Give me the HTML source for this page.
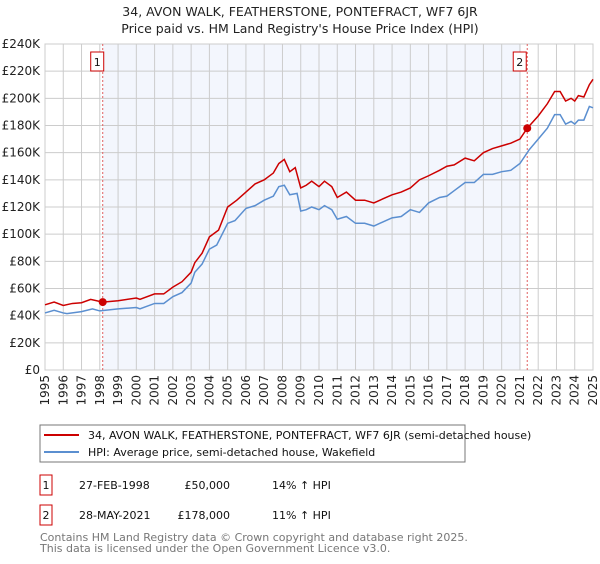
<!DOCTYPE html>
<html><head><meta charset="utf-8"><style>
body{margin:0;background:#fff;font-family:"DejaVu Sans","Liberation Sans",sans-serif;}
svg text{font-family:"DejaVu Sans","Liberation Sans",sans-serif;}
</style></head><body>
<svg id="chart" width="600" height="560" xmlns="http://www.w3.org/2000/svg">
<text x="300" y="16" text-anchor="middle" font-size="12.5" fill="#222">34, AVON WALK, FEATHERSTONE, PONTEFRACT, WF7 6JR</text>
<text x="300" y="33" text-anchor="middle" font-size="12.5" fill="#222">Price paid vs. HM Land Registry's House Price Index (HPI)</text>
<g id="plot"></g>
<rect x="40" y="425" width="425" height="37" fill="#fff" stroke="#777"/>
<line x1="44" y1="435" x2="79" y2="435" stroke="#cc0000" stroke-width="2"/>
<text x="88" y="439" font-size="11" fill="#111">34, AVON WALK, FEATHERSTONE, PONTEFRACT, WF7 6JR (semi-detached house)</text>
<line x1="44" y1="452" x2="79" y2="452" stroke="#5b8fd0" stroke-width="2"/>
<text x="88" y="456" font-size="11" fill="#111">HPI: Average price, semi-detached house, Wakefield</text>
<rect x="40" y="475" width="12" height="20" fill="#fff" stroke="#cc0000"/>
<text x="46" y="489" text-anchor="middle" font-size="11" fill="#111">1</text>
<text x="79" y="489" font-size="11" fill="#111">27-FEB-1998</text>
<text x="230" y="489" text-anchor="end" font-size="11" fill="#111">£50,000</text>
<text x="272" y="489" font-size="11" fill="#111">14% ↑ HPI</text>
<rect x="40" y="505" width="12" height="20" fill="#fff" stroke="#cc0000"/>
<text x="46" y="519" text-anchor="middle" font-size="11" fill="#111">2</text>
<text x="79" y="519" font-size="11" fill="#111">28-MAY-2021</text>
<text x="230" y="519" text-anchor="end" font-size="11" fill="#111">£178,000</text>
<text x="272" y="519" font-size="11" fill="#111">11% ↑ HPI</text>
<text x="40" y="541" font-size="11" fill="#777">Contains HM Land Registry data © Crown copyright and database right 2025.</text>
<text x="40" y="552" font-size="11" fill="#777">This data is licensed under the Open Government Licence v3.0.</text>
</svg>
<script>
const yTicks=[0,20,40,60,80,100,120,140,160,180,200,220,240];
const xYears=[1995,1996,1997,1998,1999,2000,2001,2002,2003,2004,2005,2006,2007,2008,2009,2010,2011,2012,2013,2014,2015,2016,2017,2018,2019,2020,2021,2022,2023,2024,2025];
const hpiT=[1995,1995.5,1996,1996.2,1997,1997.6,1998,1999,2000,2000.2,2001,2001.5,2002,2002.5,2003,2003.2,2003.6,2004,2004.4,2005,2005.4,2006,2006.5,2007,2007.5,2007.8,2008.1,2008.4,2008.8,2009,2009.3,2009.6,2010,2010.3,2010.7,2011,2011.5,2012,2012.5,2013,2013.5,2014,2014.5,2015,2015.5,2016,2016.6,2017,2017.4,2018,2018.5,2019,2019.5,2020,2020.5,2021,2021.5,2022,2022.5,2022.9,2023.2,2023.5,2023.8,2024,2024.2,2024.5,2024.8,2025];
const hpiV=[42,44,42,41.5,43,45,43.5,45,46,45,49,49,54,57,64,72,78,89,92,108,110,119,121,125,128,135,136,129,130,117,118,120,118,121,118,111,113,108,108,106,109,112,113,118,116,123,127,128,132,138,138,144,144,146,147,152,162,170,178,188,188,181,183,181,184,184,194,193];
const propT=[1995,1995.5,1996,1996.5,1997,1997.5,1998.16,1999,2000,2000.2,2001,2001.5,2002,2002.5,2003,2003.2,2003.6,2004,2004.5,2005,2005.5,2006,2006.5,2007,2007.5,2007.8,2008.1,2008.4,2008.7,2009,2009.3,2009.6,2010,2010.3,2010.7,2011,2011.5,2012,2012.5,2013,2013.5,2014,2014.5,2015,2015.5,2016,2016.6,2017,2017.4,2018,2018.5,2019,2019.5,2020,2020.5,2021,2021.4,2022,2022.5,2022.9,2023.2,2023.5,2023.8,2024,2024.2,2024.5,2024.8,2025];
const propV=[48,50,47.5,49,49.5,52,50,51,53,52,56,56,61,65,72,79,86,98,103,120,125,131,137,140,145,152,155,146,149,134,136,139,135,139,135,127,131,125,125,123,126,129,131,134,140,143,147,150,151,156,154,160,163,165,167,170,178,187,196,205,205,198,200,198,202,201,210,214];
const saleT=[1998.16,2021.4];
const saleV=[50,178];
const L=45,R=593,T=44,B=370;
const X=t=>L+(t-1995)/30*(R-L);
const Y=v=>B-v/240*(B-T);
const g=document.getElementById('plot');
const NS='http://www.w3.org/2000/svg';
function mk(tag,attrs){const e=document.createElementNS(NS,tag);for(const k in attrs)e.setAttribute(k,attrs[k]);g.appendChild(e);return e;}
let r=mk('rect',{x:L,y:T,width:R-L,height:B-T,fill:'#fff',stroke:'#ccc'});


let sh=mk('rect',{x:X(saleT[0]),y:T,width:X(2021.05)-X(saleT[0]),height:B-T,fill:'#eef2fc',opacity:0.7});


yTicks.forEach(v=>{
 let l=mk('line',{x1:L,x2:R,y1:Y(v),y2:Y(v),stroke:'#ccc'});
 
 
 let t=mk('text',{x:L-5,y:Y(v)+4,'text-anchor':'end','font-size':'12',fill:'#222'});
 
 
 t.textContent=v===0?'£0':'£'+v+'K';
});
xYears.forEach(yr=>{
 let l=mk('line',{x1:X(yr),x2:X(yr),y1:T,y2:B,stroke:'#ccc'});
 
 
 let t=mk('text',{x:0,y:0,'text-anchor':'end','font-size':'12',fill:'#222',transform:`translate(${X(yr)+4},${B+5}) rotate(-90)`});
 
 
 t.textContent=yr;
});
saleT.forEach((s,i)=>{
 let l=mk('line',{x1:X(s),x2:X(s),y1:T,y2:B,stroke:'#e06060','stroke-dasharray':'2,2'});
 
 
});
let pb=mk('polyline',{points:hpiT.map((t,i)=>X(t)+','+Y(hpiV[i])).join(' '),fill:'none',stroke:'#5b8fd0','stroke-width':1.5});


let pr=mk('polyline',{points:propT.map((t,i)=>X(t)+','+Y(propV[i])).join(' '),fill:'none',stroke:'#cc0000','stroke-width':1.5});


saleT.forEach((s,i)=>{
 let c=mk('circle',{cx:X(s),cy:Y(saleV[i]),r:4,fill:'#cc0000'});
 
 
 let bx=X(s)-18+(i===0?10:0);
 let b=mk('rect',{x:X(s)-12-(i===1?2:0),y:52,width:13,height:19,fill:'#fff',stroke:'#cc0000'});
 
 
 let t=mk('text',{x:X(s)-5.5-(i===1?2:0),y:66,'text-anchor':'middle','font-size':'11',fill:'#111'});
 
 
 t.textContent=i+1;
});
</script>
</body></html>
